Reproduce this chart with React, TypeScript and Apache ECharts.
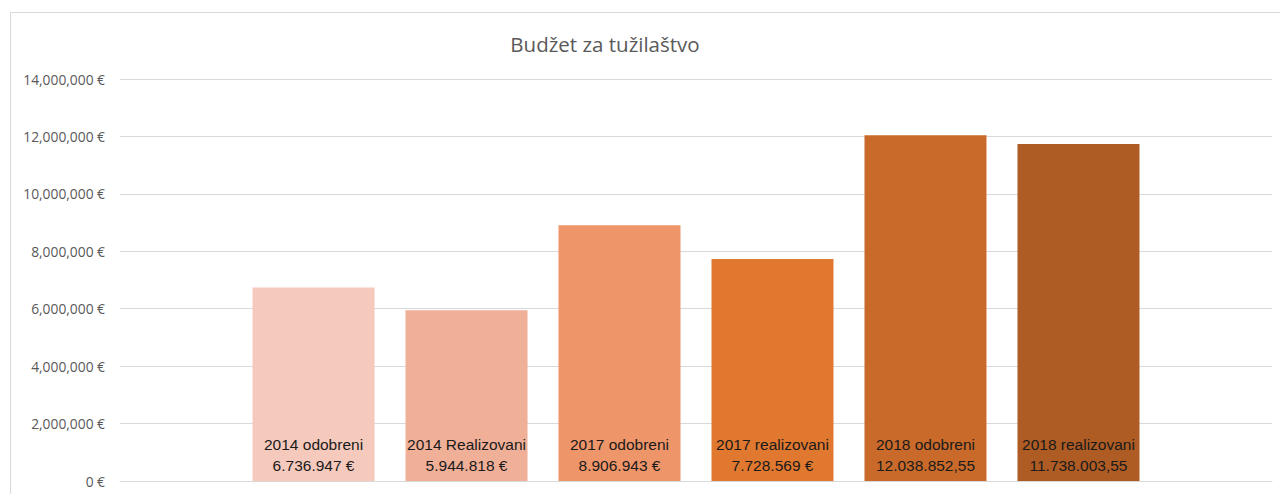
import React, { useEffect, useRef } from "react";
import * as echarts from "echarts";

const categories = ["Budžet"];
const seriesNames = [
  "2014 odobreni",
  "2014 Realizovani",
  "2017 odobreni",
  "2017 realizovani",
  "2018 odobreni",
  "2018 realizovani",
];
const seriesValues = [6736947, 5944818, 8906943, 7728569, 12038852.55, 11738003.55];
const valueLabels = [
  "6.736.947 €",
  "5.944.818 €",
  "8.906.943 €",
  "7.728.569 €",
  "12.038.852,55",
  "11.738.003,55",
];
const seriesColors = ["#F5C9BC", "#F0AF97", "#EE956A", "#E07830", "#C96A2A", "#AE5C24"];
const yTicks = [0, 2000000, 4000000, 6000000, 8000000, 10000000, 12000000, 14000000];

export default function App() {
  const ref = useRef<HTMLDivElement>(null);
  useEffect(() => {
    if (!ref.current) return;
    const chart = echarts.init(ref.current, null, { renderer: "svg" });
    chart.setOption({
      animation: false,
      backgroundColor: "#ffffff",
      title: {
        text: "Budžet za tužilaštvo",
        left: 600,
        top: 28,
        textAlign: "center",
        textStyle: {
          fontFamily: "Open Sans, Noto Sans, sans-serif",
          fontSize: 20.5,
          fontWeight: "normal",
          color: "#595959",
        },
      },
      graphic: [
        {
          type: "rect",
          shape: { x: 10.5, y: 12.5, width: 1400, height: 600 },
          style: { fill: "none", stroke: "#d9d9d9", lineWidth: 1 },
          silent: true,
        },
      ],
      grid: { left: 120, right: 8, top: 79, bottom: 13 },
      xAxis: {
        type: "category",
        data: categories,
        axisLine: { show: true, lineStyle: { color: "#d9d9d9" } },
        axisTick: { show: false },
        axisLabel: { show: false },
      },
      yAxis: {
        type: "value",
        min: yTicks[0],
        max: yTicks[yTicks.length - 1],
        interval: yTicks[1] - yTicks[0],
        axisLine: { show: false },
        axisTick: { show: false },
        splitLine: { lineStyle: { color: "#d9d9d9", width: 1 } },
        axisLabel: {
          margin: 15,
          fontFamily: "Open Sans, Noto Sans, sans-serif",
          fontSize: 13.8,
          color: "#595959",
          formatter: (v: number) =>
            v === 0 ? "0 €" : v.toLocaleString("en-US") + " €",
        },
      },
      series: seriesNames.map((name, i) => ({
        name,
        type: "bar",
        data: [seriesValues[i]],
        barWidth: 122,
        barGap: "25.4%",
        itemStyle: { color: seriesColors[i] },
        label: {
          show: true,
          position: "insideBottom",
          distance: 5,
          formatter: () => name + "\n" + valueLabels[i],
          fontFamily: "Liberation Sans, Arial, sans-serif",
          fontSize: 15.5,
          lineHeight: 21,
          color: "#1a1a1a",
        },
      })),
    });
    return () => chart.dispose();
  }, []);
  return (
    <div
      ref={ref}
      style={{ position: "fixed", left: 0, top: 0, width: 1280, height: 494 }}
    />
  );
}
